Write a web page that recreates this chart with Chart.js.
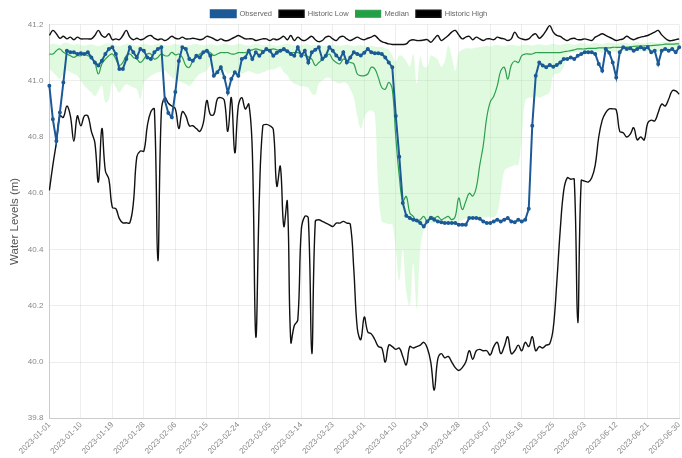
<!DOCTYPE html>
<html>
<head>
<meta charset="utf-8">
<script src="https://cdn.jsdelivr.net/npm/chart.js@4.4.0/dist/chart.umd.min.js"></script>
<style>
  html, body { margin: 0; padding: 0; background: #fff; overflow: hidden; }
  #wrap { width: 688px; height: 458px; position: relative; }
</style>
</head>
<body>
<div id="wrap"><canvas id="levels"></canvas></div>
<script>
// daily categories 2023-01-01 .. 2023-06-30, label every 9th day
const startDate = '2023-01-01';
const dayCount = 181;
const tickEvery = 9;
const yTicks = [39.8, 40.0, 40.2, 40.4, 40.6, 40.8, 41.0, 41.2];

const dates = [];
for (let i = 0; i < dayCount; i++) {
    const d = new Date(startDate + 'T00:00:00Z');
    d.setUTCDate(d.getUTCDate() + i);
    dates.push(d.toISOString().slice(0, 10));
}

// values (m)
const observed = [
    40.982, 40.863, 40.786, 40.887, 40.994, 41.107, 41.101, 41.101, 41.095, 41.098,
    41.095, 41.101, 41.083, 41.065, 41.054, 41.071, 41.095, 41.113, 41.119, 41.095,
    41.042, 41.042, 41.077, 41.119, 41.101, 41.083, 41.113, 41.107, 41.083, 41.077,
    41.101, 41.113, 41.119, 40.930, 40.885, 40.870, 40.960, 41.070, 41.119, 41.113,
    41.077, 41.071, 41.089, 41.083, 41.101, 41.107, 41.089, 41.018, 41.030, 41.048,
    41.012, 40.958, 41.006, 41.030, 41.018, 41.077, 41.083, 41.107, 41.077, 41.101,
    41.089, 41.101, 41.113, 41.107, 41.089, 41.100, 41.107, 41.113, 41.105, 41.095,
    41.089, 41.119, 41.089, 41.107, 41.065, 41.101, 41.110, 41.119, 41.077, 41.089,
    41.119, 41.107, 41.090, 41.077, 41.101, 41.065, 41.083, 41.101, 41.095, 41.090,
    41.100, 41.113, 41.101, 41.098, 41.098, 41.095, 41.083, 41.065, 41.048, 40.875,
    40.730, 40.565, 40.520, 40.512, 40.506, 40.503, 40.494, 40.482, 40.500, 40.512,
    40.506, 40.500, 40.497, 40.494, 40.494, 40.494, 40.494, 40.488, 40.488, 40.488,
    40.512, 40.512, 40.512, 40.509, 40.500, 40.494, 40.494, 40.500, 40.506, 40.500,
    40.506, 40.512, 40.500, 40.497, 40.506, 40.500, 40.506, 40.545, 40.840, 41.018,
    41.065, 41.054, 41.048, 41.056, 41.050, 41.056, 41.065, 41.077, 41.077, 41.083,
    41.077, 41.089, 41.095, 41.101, 41.101, 41.101, 41.095, 41.060, 41.036, 41.113,
    41.100, 41.065, 41.012, 41.101, 41.119, 41.113, 41.116, 41.107, 41.113, 41.119,
    41.113, 41.119, 41.101, 41.107, 41.060, 41.107, 41.113, 41.107, 41.113, 41.101,
    41.119
];

const historicLow = [
    40.610, 40.700, 40.780, 40.875, 40.870, 40.910, 40.875, 40.785, 40.875, 40.840,
    40.875, 40.875, 40.820, 40.780, 40.640, 40.830, 40.680, 40.650, 40.550, 40.545,
    40.510, 40.495, 40.495, 40.495, 40.565, 40.730, 40.750, 40.750, 40.840, 40.890,
    40.900, 40.360, 40.890, 40.940, 40.920, 40.910, 40.900, 40.830, 40.890, 40.875,
    40.840, 40.840, 40.830, 40.820, 40.850, 40.930, 40.880, 40.880, 40.935, 40.940,
    40.930, 40.820, 40.940, 40.744, 40.911, 40.940, 40.900, 40.917, 40.750, 40.090,
    40.580, 40.840, 40.845, 40.840, 40.827, 40.625, 40.696, 40.482, 40.571, 40.071,
    40.130, 40.150, 40.470, 40.518, 40.512, 40.030, 40.500, 40.506, 40.500, 40.494,
    40.488, 40.482, 40.494, 40.494, 40.500, 40.494, 40.490, 40.330, 40.120, 40.080,
    40.160, 40.107, 40.100, 40.080, 40.055, 40.050, 40.000, 40.060, 40.055, 40.045,
    40.050, 40.020, 39.990, 40.055, 40.050, 40.055, 40.060, 40.070, 40.050, 40.000,
    39.900, 40.010, 40.030, 40.015, 40.020, 40.000, 39.980, 39.970, 39.980, 40.000,
    40.040, 40.010, 40.040, 40.045, 40.040, 40.040, 40.025, 40.055, 40.070, 40.030,
    40.055, 40.090, 40.030, 40.040, 40.060, 40.040, 40.070, 40.055, 40.090, 40.040,
    40.055, 40.050, 40.060, 40.065, 40.120, 40.280, 40.470, 40.610, 40.655, 40.650,
    40.650, 40.140, 40.645, 40.643, 40.640, 40.655, 40.700, 40.800, 40.860, 40.887,
    40.900, 40.900, 40.897, 40.820, 40.815, 40.800, 40.810, 40.833, 40.790, 40.800,
    40.790, 40.850, 40.860, 40.857, 40.887, 40.917, 40.910, 40.935, 40.964, 40.964,
    40.952
];

const median = [
    41.095, 41.095, 41.107, 41.113, 41.101, 41.095, 41.089, 41.083, 41.089, 41.089,
    41.095, 41.089, 41.083, 41.065, 41.024, 41.060, 41.077, 41.089, 41.095, 41.077,
    41.054, 41.065, 41.089, 41.095, 41.083, 41.077, 41.065, 41.077, 41.095, 41.095,
    41.077, 41.083, 41.095, 41.089, 41.089, 41.101, 41.092, 41.095, 41.083, 41.054,
    41.048, 41.071, 41.083, 41.095, 41.101, 41.107, 41.100, 41.090, 41.095, 41.100,
    41.100, 41.100, 41.095, 41.095, 41.100, 41.100, 41.100, 41.105, 41.110, 41.113,
    41.110, 41.107, 41.107, 41.110, 41.113, 41.110, 41.107, 41.107, 41.105, 41.100,
    41.100, 41.100, 41.095, 41.090, 41.085, 41.077, 41.054, 41.065, 41.075, 41.085,
    41.095, 41.075, 41.065, 41.060, 41.077, 41.071, 41.065, 41.060, 41.024, 41.018,
    41.018, 41.024, 41.048, 41.042, 41.012, 40.976, 40.970, 40.994, 40.970, 40.800,
    40.660, 40.571, 40.589, 40.530, 40.518, 40.500, 40.506, 40.518, 40.500, 40.518,
    40.512, 40.518, 40.506, 40.512, 40.518, 40.506, 40.518, 40.583, 40.542, 40.571,
    40.600, 40.590, 40.620, 40.700, 40.770, 40.870, 40.925, 40.945, 40.982, 41.035,
    41.048, 41.006, 41.055, 41.070, 41.065, 41.089, 41.095, 41.095, 41.095, 41.100,
    41.100, 41.100, 41.100, 41.100, 41.100, 41.100, 41.100, 41.103, 41.105, 41.107,
    41.110, 41.113, 41.113, 41.113, 41.115, 41.115, 41.115, 41.117, 41.117, 41.117,
    41.117, 41.119, 41.119, 41.119, 41.119, 41.120, 41.120, 41.122, 41.123, 41.123,
    41.124, 41.125, 41.125, 41.126, 41.127, 41.128, 41.130, 41.130, 41.130, 41.131,
    41.131
];

const historicHigh = [
    41.161, 41.179, 41.167, 41.151, 41.158, 41.149, 41.155, 41.146, 41.155, 41.149,
    41.149, 41.149, 41.149, 41.161, 41.179, 41.161, 41.155, 41.167, 41.146, 41.149,
    41.146, 41.161, 41.179, 41.155, 41.146, 41.151, 41.146, 41.149, 41.158, 41.161,
    41.151, 41.146, 41.149, 41.143, 41.149, 41.158, 41.151, 41.149, 41.155, 41.149,
    41.149, 41.151, 41.149, 41.146, 41.149, 41.158, 41.155, 41.149, 41.143, 41.149,
    41.143, 41.143, 41.149, 41.155, 41.161, 41.155, 41.149, 41.149, 41.149, 41.143,
    41.146, 41.149, 41.149, 41.143, 41.149, 41.146, 41.151, 41.158, 41.146, 41.161,
    41.143, 41.155, 41.146, 41.143, 41.151, 41.158, 41.146, 41.139, 41.143, 41.155,
    41.158, 41.149, 41.143, 41.155, 41.158, 41.149, 41.143, 41.149, 41.155, 41.149,
    41.146, 41.151, 41.155, 41.161, 41.149, 41.139, 41.135, 41.131, 41.129, 41.129,
    41.129, 41.129, 41.131, 41.143, 41.146, 41.143, 41.143, 41.145, 41.146, 41.137,
    41.149, 41.161, 41.143, 41.151, 41.161, 41.173, 41.179, 41.163, 41.149, 41.155,
    41.158, 41.146, 41.155, 41.149, 41.143, 41.149, 41.149, 41.146, 41.155, 41.151,
    41.149, 41.143, 41.149, 41.173, 41.155, 41.149, 41.146, 41.149, 41.161, 41.167,
    41.151, 41.161, 41.179, 41.196, 41.173, 41.161, 41.158, 41.149, 41.143, 41.149,
    41.151, 41.146, 41.146, 41.149, 41.146, 41.143, 41.155, 41.161, 41.167, 41.161,
    41.155, 41.149, 41.143, 41.146, 41.149, 41.158, 41.151, 41.146, 41.151, 41.155,
    41.158, 41.161, 41.167, 41.173, 41.179, 41.163, 41.151, 41.143, 41.143, 41.146,
    41.149
];

// shaded range (upper / lower edge of the light green band)
const rangeHigh = [
    41.128, 41.132, 41.130, 41.126, 41.133, 41.135, 41.130, 41.128, 41.131, 41.127,
    41.125, 41.128, 41.130, 41.126, 41.123, 41.127, 41.131, 41.133, 41.129, 41.126,
    41.124, 41.127, 41.131, 41.130, 41.127, 41.125, 41.128, 41.131, 41.129, 41.126,
    41.128, 41.132, 41.130, 41.127, 41.125, 41.128, 41.131, 41.129, 41.126, 41.124,
    41.126, 41.129, 41.131, 41.128, 41.126, 41.128, 41.130, 41.127, 41.125, 41.128,
    41.131, 41.129, 41.126, 41.128, 41.131, 41.130, 41.127, 41.125, 41.128, 41.131,
    41.129, 41.126, 41.128, 41.130, 41.127, 41.124, 41.126, 41.129, 41.131, 41.128,
    41.126, 41.124, 41.127, 41.130, 41.128, 41.125, 41.127, 41.129, 41.126, 41.124,
    41.127, 41.129, 41.126, 41.124, 41.126, 41.128, 41.125, 41.123, 41.125, 41.127,
    41.124, 41.122, 41.124, 41.122, 41.120, 41.120, 41.115, 41.110, 41.090, 41.070,
    41.090, 41.085, 41.070, 41.050, 41.095, 40.990, 41.085, 41.050, 41.050, 41.090,
    41.085, 41.075, 41.050, 41.070, 41.125, 41.085, 41.036, 41.100, 41.110, 41.115,
    41.115, 41.115, 41.118, 41.120, 41.122, 41.124, 41.122, 41.125, 41.127, 41.125,
    41.123, 41.126, 41.128, 41.126, 41.124, 41.127, 41.129, 41.127, 41.125, 41.128,
    41.130, 41.128, 41.126, 41.129, 41.131, 41.129, 41.127, 41.130, 41.132, 41.130,
    41.128, 41.131, 41.133, 41.131, 41.129, 41.132, 41.134, 41.132, 41.130, 41.133,
    41.135, 41.133, 41.131, 41.134, 41.136, 41.134, 41.132, 41.135, 41.137, 41.135,
    41.133, 41.136, 41.138, 41.136, 41.134, 41.137, 41.139, 41.137, 41.135, 41.138,
    41.140
];

const rangeLow = [
    41.042, 41.030, 41.018, 41.006, 41.024, 41.036, 41.030, 41.024, 41.018, 41.000,
    40.982, 40.970, 40.958, 40.946, 40.964, 40.982, 40.923, 40.935, 40.994, 40.976,
    40.958, 40.976, 40.988, 40.982, 40.976, 40.970, 40.935, 40.994, 41.006, 41.018,
    41.024, 41.030, 41.032, 41.036, 41.024, 41.012, 41.006, 41.000, 40.994, 40.988,
    40.982, 40.994, 41.012, 41.024, 41.030, 41.036, 41.054, 41.040, 41.030, 41.020,
    41.035, 41.025, 41.030, 41.020, 41.020, 41.025, 41.030, 41.035, 41.030, 41.025,
    41.025, 41.030, 41.035, 41.040, 41.040, 41.045, 41.050, 41.030, 41.020, 41.000,
    40.990, 40.985, 40.980, 40.980, 40.975, 40.955, 40.950, 40.990, 41.000, 41.010,
    41.010, 41.000, 40.995, 40.990, 40.995, 40.990, 40.970, 40.940, 40.875, 40.830,
    40.870, 40.890, 40.895, 40.880, 40.620, 40.500, 40.495, 40.490, 40.490, 40.400,
    40.290, 40.400, 40.250, 40.200, 40.350, 40.190, 40.400, 40.470, 40.500, 40.495,
    40.495, 40.495, 40.495, 40.495, 40.495, 40.495, 40.495, 40.500, 40.505, 40.510,
    40.512, 40.512, 40.512, 40.515, 40.515, 40.515, 40.515, 40.515, 40.530, 40.600,
    40.680, 40.690, 40.695, 40.700, 40.700, 40.800, 40.930, 40.940, 40.940, 40.945,
    40.940, 40.945, 40.950, 40.960, 41.020, 41.025, 41.030, 41.050, 41.090, 41.100,
    41.100, 41.102, 41.100, 41.098, 41.100, 41.102, 41.104, 41.102, 41.100, 41.103,
    41.105, 41.103, 41.101, 41.104, 41.106, 41.104, 41.102, 41.105, 41.107, 41.105,
    41.103, 41.106, 41.108, 41.106, 41.104, 41.107, 41.109, 41.107, 41.105, 41.108,
    41.110
];

Chart.defaults.font.family = "'Liberation Sans', Arial, sans-serif";
Chart.defaults.color = '#777';

// push the legend down a little without moving the plot area
const legendShift = 3;
const legendNudge = {
    id: 'legendNudge',
    beforeInit(chart) {
        const origFit = chart.legend.fit;
        chart.legend.fit = function () {
            origFit.call(this);
            this.height -= legendShift;
        };
    }
};

const ctx = document.getElementById('levels');
new Chart(ctx, {
    type: 'line',
    data: {
        labels: dates,
        datasets: [
            {
                label: 'Observed',
                data: observed,
                borderColor: '#1b5a96',
                backgroundColor: '#1b5a96',
                borderWidth: 2,
                pointRadius: 1,
                pointHoverRadius: 2,
                tension: 0,
                fill: false
            },
            {
                label: 'Historic Low',
                data: historicLow,
                borderColor: '#111',
                backgroundColor: '#000',
                borderWidth: 1.4,
                pointRadius: 0,
                tension: 0.4,
                fill: false
            },
            {
                label: 'Median',
                data: median,
                borderColor: '#2e9f4e',
                backgroundColor: '#22a046',
                borderWidth: 1.2,
                pointRadius: 0,
                tension: 0.4,
                fill: false
            },
            {
                label: 'Historic High',
                data: historicHigh,
                borderColor: '#111',
                backgroundColor: '#000',
                borderWidth: 1.4,
                pointRadius: 0,
                tension: 0.4,
                fill: false
            },
            {
                label: 'range-high',
                data: rangeHigh,
                borderColor: 'rgba(0,0,0,0)',
                borderWidth: 0,
                pointRadius: 0,
                tension: 0.4,
                backgroundColor: 'rgba(150, 238, 150, 0.3)',
                fill: '+1'
            },
            {
                label: 'range-low',
                data: rangeLow,
                borderColor: 'rgba(0,0,0,0)',
                borderWidth: 0,
                pointRadius: 0,
                tension: 0.4,
                fill: false
            }
        ]
    },
    options: {
        responsive: true,
        maintainAspectRatio: false,
        animation: false,
        layout: { padding: { left: 2, right: -8, top: legendShift, bottom: 0 } },
        plugins: {
            legend: {
                position: 'top',
                labels: {
                    boxWidth: 25,
                    boxHeight: 7,
                    padding: 7,
                    color: '#666',
                    font: { size: 7.5 },
                    filter: item => !item.text.startsWith('range')
                }
            },
            tooltip: { enabled: false }
        },
        scales: {
            x: {
                grid: { color: 'rgba(0,0,0,0.07)', drawTicks: false },
                border: { color: '#ccc' },
                ticks: {
                    autoSkip: false,
                    maxRotation: 45,
                    minRotation: 45,
                    padding: 2,
                    color: '#888',
                    font: { size: 8 },
                    callback: (v, i) => (i % tickEvery === 0 ? dates[i] : null)
                }
            },
            y: {
                min: yTicks[0],
                max: yTicks[yTicks.length - 1],
                afterBuildTicks: axis => { axis.ticks = yTicks.map(v => ({ value: v })); },
                grid: { color: 'rgba(0,0,0,0.07)', drawTicks: false },
                border: { color: '#ccc' },
                title: {
                    display: true,
                    text: 'Water Levels (m)',
                    color: '#555',
                    font: { size: 11.5 },
                    padding: { top: 6, bottom: 0 }
                },
                ticks: {
                    padding: 6,
                    color: '#888',
                    font: { size: 8 },
                    callback: v => Number(v).toFixed(1)
                }
            }
        }
    },
    plugins: [legendNudge]
});
</script>
</body>
</html>
